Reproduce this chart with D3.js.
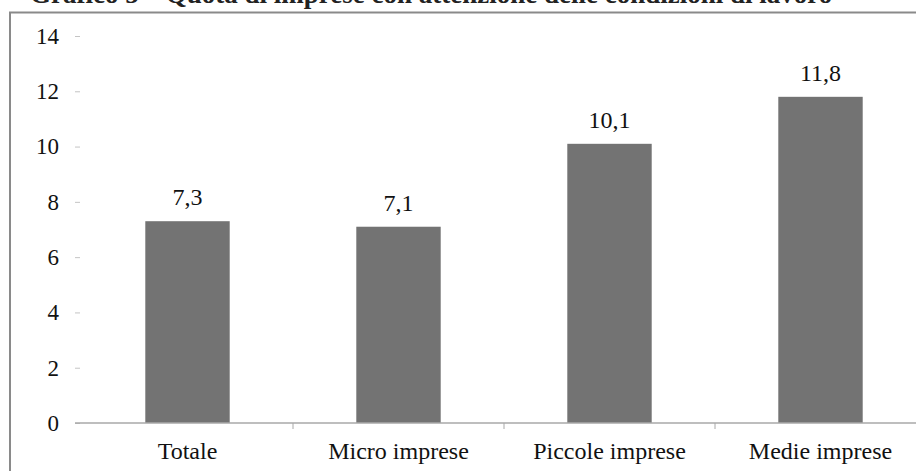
<!DOCTYPE html>
<html>
<head>
<meta charset="utf-8">
<script src="https://cdn.jsdelivr.net/npm/d3@7"></script>
<style>
  body { margin: 0; background: #fff; }
  svg text { font-family: "Liberation Serif", "DejaVu Serif", serif; }
</style>
</head>
<body>
<div class="container"></div>
<script>
const categories = ["Totale", "Micro imprese", "Piccole imprese", "Medie imprese"];
const values = [7.3, 7.1, 10.1, 11.8];
const valueLabels = ["7,3", "7,1", "10,1", "11,8"];
const yTicks = [0, 2, 4, 6, 8, 10, 12, 14];
const title = "Grafico 5 – Quota di imprese con attenzione delle condizioni di lavoro";

const width = 916;
const height = 471;

const svg = d3.select(".container")
    .append("svg")
    .attr("width", width)
    .attr("height", height)
    .attr("viewBox", `0 0 ${width} ${height}`);

// background
svg.append("rect")
    .attr("width", width)
    .attr("height", height)
    .attr("fill", "#fff");

// title, cut at the top of the scan
svg.append("text")
    .attr("x", 30)
    .attr("y", 3)
    .style("font-size", "27px")
    .style("font-weight", "bold")
    .attr("fill", "#222")
    .text(title);

// frame (right and bottom edges fall outside the picture)
svg.append("path")
    .attr("d", `M10,${height + 5} L10,12.5 L${width + 5},12.5`)
    .attr("fill", "none")
    .attr("stroke", "#8a8a8a")
    .attr("stroke-width", 2);

const y = d3.scaleLinear().domain([0, 14]).range([423, 36]);
const x = d3.scaleBand().domain(categories).range([82, 926]).padding(0);
const bw = x.bandwidth();

// y axis: ticks only, no line
const yAxis = svg.append("g")
    .attr("transform", "translate(80,0)")
    .call(d3.axisLeft(y).tickValues(yTicks).tickSize(5).tickPadding(16));
yAxis.select(".domain").remove();
yAxis.selectAll(".tick line").attr("stroke", "#c4c4c4");
yAxis.selectAll(".tick text")
    .attr("fill", "#111")
    .style("font-size", "23px")
    .style("font-family", '"Liberation Serif", serif');

// bars
svg.append("g")
    .selectAll("rect")
    .data(values)
    .join("rect")
    .attr("x", (d, i) => x(categories[i]) + bw * 0.3)
    .attr("y", d => y(d))
    .attr("width", bw * 0.4)
    .attr("height", d => y(0) - y(d))
    .attr("fill", "#737373");

// value labels
svg.append("g")
    .selectAll("text")
    .data(values)
    .join("text")
    .attr("x", (d, i) => x(categories[i]) + bw / 2)
    .attr("y", d => y(d) - 16)
    .attr("text-anchor", "middle")
    .attr("fill", "#111")
    .style("font-size", "24px")
    .text((d, i) => valueLabels[i]);

// x axis line
svg.append("line")
    .attr("x1", 75)
    .attr("x2", width)
    .attr("y1", y(0))
    .attr("y2", y(0))
    .attr("stroke", "#a8a8a8")
    .attr("stroke-width", 1.5);

// boundary ticks between categories
svg.append("g")
    .selectAll("line")
    .data(categories.slice(1))
    .join("line")
    .attr("x1", d => x(d))
    .attr("x2", d => x(d))
    .attr("y1", y(0))
    .attr("y2", y(0) + 6)
    .attr("stroke", "#a8a8a8");

// category labels
const xAxis = svg.append("g")
    .attr("transform", `translate(0,${y(0)})`)
    .call(d3.axisBottom(x).tickSize(0).tickPadding(19));
xAxis.select(".domain").remove();
xAxis.selectAll(".tick text")
    .attr("fill", "#111")
    .style("font-size", "24px")
    .style("font-family", '"Liberation Serif", serif');
</script>
</body>
</html>
